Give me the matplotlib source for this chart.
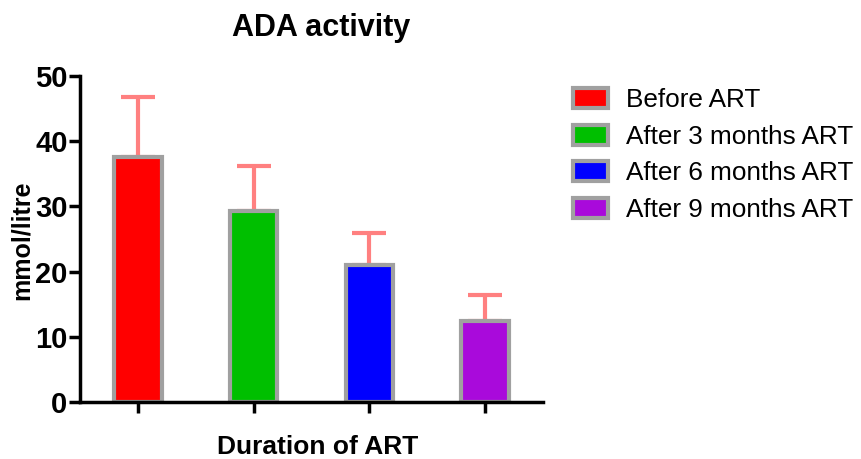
import numpy as np
import matplotlib.pyplot as plt

plt.rcParams['font.family'] = ['Liberation Sans', 'DejaVu Sans']

groups = ['Before ART', 'After 3 months ART', 'After 6 months ART', 'After 9 months ART']
means = [37.6, 29.3, 21.0, 12.4]
errors = [9.2, 6.9, 4.9, 4.0]
colors = ['#ff0000', '#00bf00', '#0000ff', '#a90adb']
yticks = [0, 10, 20, 30, 40, 50]

fig = plt.figure(figsize=(8.61, 4.59), dpi=100)
ax = fig.add_axes([80 / 861, 57 / 459, 463 / 861, 326 / 459])

x = np.arange(len(groups))
ax.errorbar(x, means, yerr=[np.zeros(len(errors)), errors], fmt='none',
            ecolor='#ff8080', elinewidth=3, capsize=12, capthick=3, zorder=1)
bars = ax.bar(x, means, width=0.41, color=colors, edgecolor='#a0a0a0',
              linewidth=3, zorder=2)

ax.set_xlim(-0.5, 3.5)
ax.set_ylim(0, 50)
ax.set_yticks(yticks)
ax.set_xticks(x)
ax.set_xticklabels([])
ax.tick_params(axis='both', width=2.5, length=8, labelsize=21, pad=1)
for lbl in ax.get_yticklabels():
    lbl.set_fontweight('bold')
for s in ['top', 'right']:
    ax.spines[s].set_visible(False)
for s in ['left', 'bottom']:
    ax.spines[s].set_linewidth(2.5)

fig.text(321 / 861, 1 - 28 / 459, 'ADA activity', fontsize=22, fontweight='bold',
         ha='center', va='center')
ax.set_ylabel('mmol/litre', fontsize=18, fontweight='bold')
ax.yaxis.set_label_coords(-58 / 463, (402 - 240) / 326)
ax.set_xlabel('Duration of ART', fontsize=19, fontweight='bold')
ax.xaxis.set_label_coords((318 - 80) / 463, -(447 - 402) / 326)
ax.xaxis.label.set_va('center')
ax.yaxis.label.set_va('center')

leg = fig.legend(handles=list(bars), labels=groups, loc='upper left',
                 bbox_to_anchor=(573 / 861, 1 - 88 / 459), frameon=False,
                 fontsize=18.8, handlelength=1.34, handleheight=0.8,
                 labelspacing=0.48, handletextpad=0.7, borderpad=0,
                 borderaxespad=0)

fig.savefig('out.png', dpi=100)
